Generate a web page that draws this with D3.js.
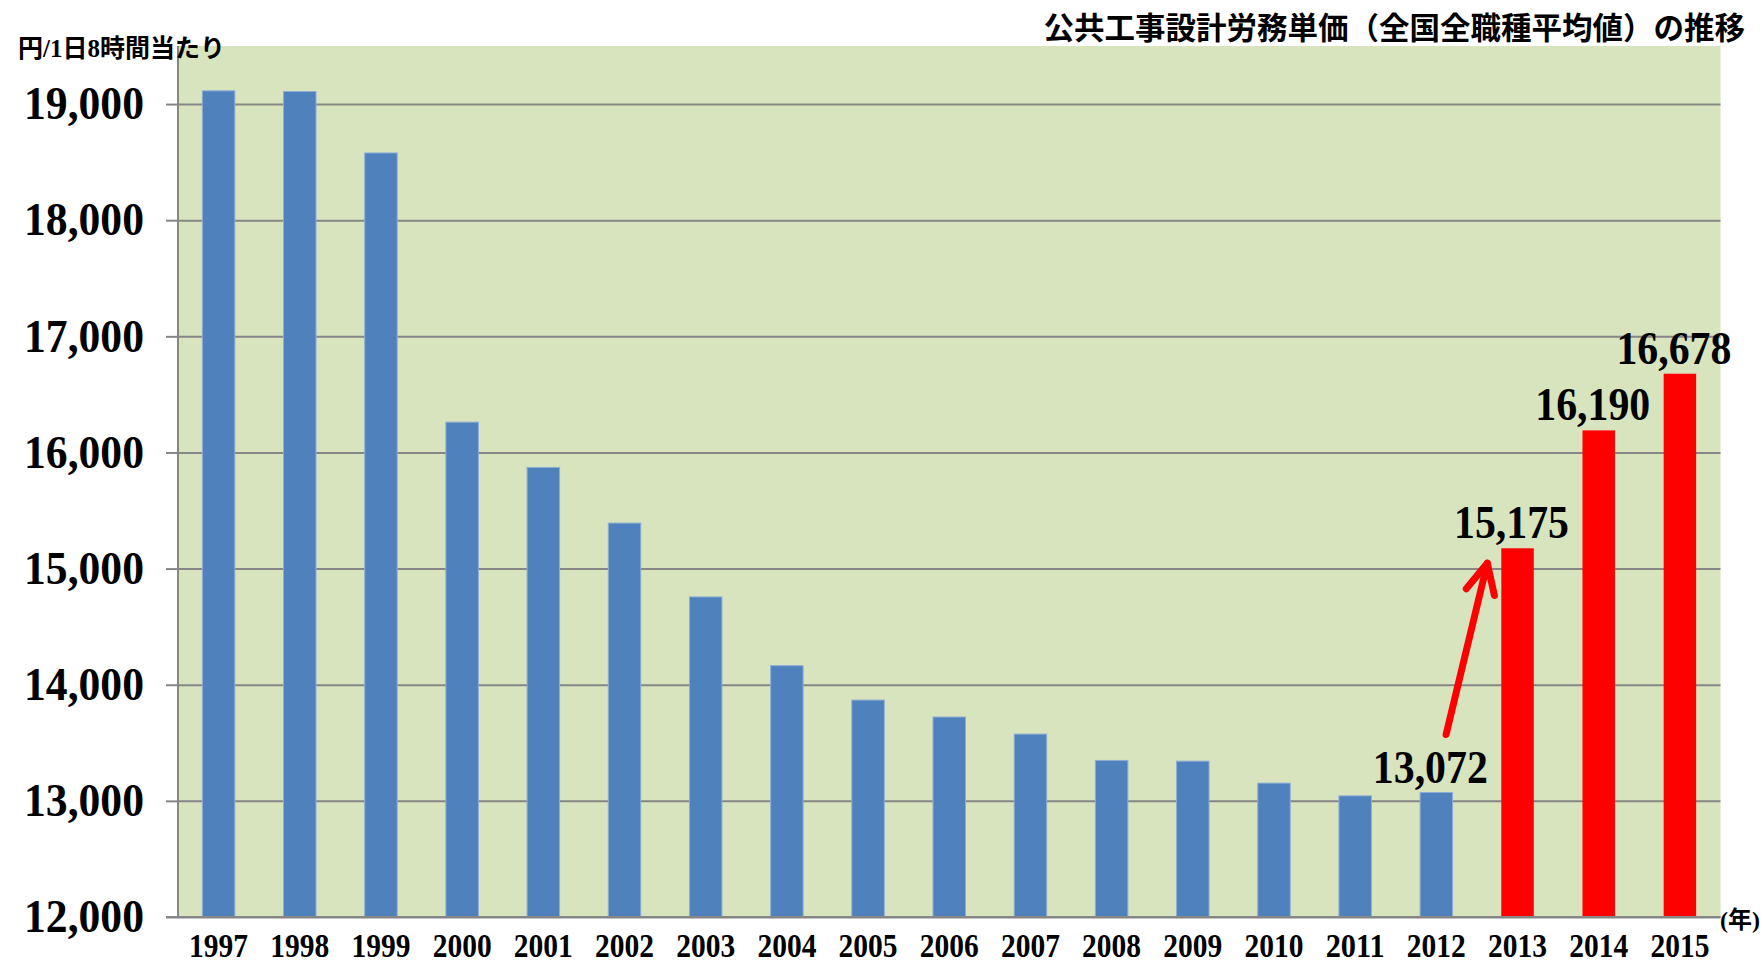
<!DOCTYPE html>
<html lang="ja">
<head>
<meta charset="utf-8">
<script src="https://cdn.jsdelivr.net/npm/d3@7/dist/d3.min.js"></script>
<style>
  body { margin: 0; background: #fff; }
  svg { display: block; }
  .serif { font-family: "Liberation Serif", "Noto Sans CJK JP", serif; font-weight: bold; }
</style>
</head>
<body>
<svg id="svg" width="1764" height="965"></svg>
<script>
"use strict";

// 公共工事設計労務単価（全国全職種平均値）
const years = ["1997", "1998", "1999", "2000", "2001", "2002", "2003", "2004", "2005", "2006",
  "2007", "2008", "2009", "2010", "2011", "2012", "2013", "2014", "2015"];
const wages = [19114, 19108, 18579, 16261, 15871, 15392, 14756, 14164, 13868, 13722,
  13575, 13348, 13342, 13153, 13043, 13072, 15175, 16190, 16678];
const redYears = ["2013", "2014", "2015"];
const labelYears = ["2012", "2013", "2014", "2015"];
const yTicks = [12000, 13000, 14000, 15000, 16000, 17000, 18000, 19000];
const yMin = 12000, yMax = 19500;

const titleText = "公共工事設計労務単価（全国全職種平均値）の推移";
const unitText = "円/1日8時間当たり";
const yearUnit = "(年)";

const data = years.map((yr, i) => ({ year: yr, value: wages[i] }));

const svg = d3.select("#svg");
const plotLeft = 178, plotRight = 1720.5, plotTop = 46, plotBottom = 917;
const gridColor = "#868686";

const x = d3.scaleBand()
  .domain(years)
  .range([plotLeft, plotRight])
  .paddingInner(0.6)
  .paddingOuter(0.3);

const y = d3.scaleLinear()
  .domain([yMin, yMax])
  .range([plotBottom, plotTop]);

// plot background
svg.append("rect")
  .attr("x", plotLeft)
  .attr("y", plotTop)
  .attr("width", plotRight - plotLeft)
  .attr("height", plotBottom - plotTop)
  .attr("fill", "#D7E4BD");

// grid lines
let grid = svg.append("g")
  .attr("transform", `translate(${plotLeft},0)`)
  .call(d3.axisLeft(y).tickValues(yTicks).tickSize(-(plotRight - plotLeft)).tickFormat(""));
grid.select(".domain").remove();
grid.selectAll("line").attr("stroke", gridColor).attr("stroke-width", 2);

// bars
svg.selectAll("rect.bar")
  .data(data)
  .enter()
  .append("rect")
  .attr("class", "bar")
  .attr("x", d => x(d.year))
  .attr("y", d => y(d.value))
  .attr("width", x.bandwidth())
  .attr("height", d => y(yMin) - y(d.value))
  .attr("fill", d => redYears.includes(d.year) ? "#FF0000" : "#4F81BD")
  .attr("stroke", d => redYears.includes(d.year) ? "none" : "#8EADD6")
  .attr("stroke-width", 1);

// y axis
let gY = svg.append("g")
  .attr("transform", `translate(${plotLeft},0)`)
  .call(d3.axisLeft(y).tickValues(yTicks).tickSize(12).tickPadding(22).tickFormat(d3.format(",")));
gY.select(".domain").attr("stroke", gridColor).attr("stroke-width", 2)
  .attr("d", `M0,${plotTop}V${plotBottom}`);
gY.selectAll("line").attr("stroke", gridColor).attr("stroke-width", 2);
gY.selectAll("text")
  .attr("class", "serif")
  .attr("fill", "#000")
  .style("font-size", "46px")
  .attr("textLength", 120)
  .attr("lengthAdjust", "spacingAndGlyphs");

// x axis
let gX = svg.append("g")
  .attr("transform", `translate(0,${plotBottom})`)
  .call(d3.axisBottom(x).tickSize(0));
gX.select(".domain").attr("stroke", gridColor).attr("stroke-width", 2)
  .attr("d", `M${plotLeft - 12},0H${plotRight}`);
gX.selectAll("text")
  .attr("class", "serif")
  .attr("fill", "#000")
  .attr("y", 40)
  .attr("dy", null)
  .style("font-size", "33px")
  .attr("textLength", 59)
  .attr("lengthAdjust", "spacingAndGlyphs");

// value labels
svg.selectAll("text.value")
  .data(data.filter(d => labelYears.includes(d.year)))
  .enter()
  .append("text")
  .attr("class", "value serif")
  .attr("x", d => x(d.year) + x.bandwidth() / 2 - 6)
  .attr("y", d => y(d.value) - 10)
  .attr("text-anchor", "middle")
  .style("font-size", "46px")
  .attr("textLength", 115)
  .attr("lengthAdjust", "spacingAndGlyphs")
  .text(d => d3.format(",")(d.value));

// arrow from 2012 to 2013
const from = data.find(d => d.year === "2012");
const to = data.find(d => d.year === "2013");
const tail = [x(from.year) + x.bandwidth() * 0.8, y(from.value) - 58];
const tip = [x(to.year) - 14, y(to.value) + 15];
const ang = Math.atan2(tail[1] - tip[1], tail[0] - tip[0]);
const wing = 33, spread = 26 * Math.PI / 180;
const w1 = [tip[0] + wing * Math.cos(ang + spread), tip[1] + wing * Math.sin(ang + spread)];
const w2 = [tip[0] + wing * Math.cos(ang - spread), tip[1] + wing * Math.sin(ang - spread)];
const arrow = svg.append("g")
  .attr("fill", "none")
  .attr("stroke", "#FF0000")
  .attr("stroke-width", 7)
  .attr("stroke-linecap", "round")
  .attr("stroke-linejoin", "round");
arrow.append("path").attr("d", d3.line()([tail, tip]));
arrow.append("path").attr("d", d3.line()([w1, tip, w2]));

// titles
svg.append("text")
  .attr("class", "serif")
  .attr("x", 1745)
  .attr("y", 29)
  .attr("text-anchor", "end")
  .attr("dominant-baseline", "central")
  .style("font-size", "30.5px")
  .text(titleText);

svg.append("text")
  .attr("class", "serif")
  .attr("x", 18)
  .attr("y", 48)
  .attr("dominant-baseline", "central")
  .style("font-size", "25px")
  .text(unitText);

svg.append("text")
  .attr("class", "serif")
  .attr("x", 1720)
  .attr("y", 920)
  .attr("dominant-baseline", "central")
  .style("font-size", "24px")
  .text(yearUnit);
</script>
</body>
</html>
